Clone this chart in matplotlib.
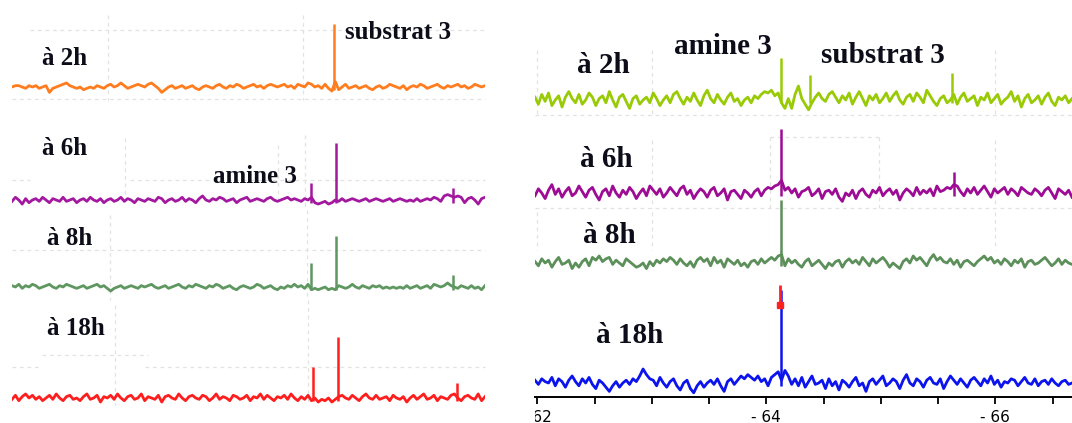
import numpy as np
import matplotlib
matplotlib.use("Agg")
import matplotlib.pyplot as plt
from matplotlib.patches import Rectangle

# ---- data (heights in pixels above each baseline) ----
# left block: spectral window as fraction 0..1 (no axis shown)
noise_L2 = [0,1,1,0,-1,1,0,1,-1,0, 1,-4,-1,0,1,2,3,1,0,-1, 0,-2,-1,0,-1,1,0,-1,1,2,
            0,1,3,1,-1,0,1,2,1,0, 2,3,1,-1,-4,-2,0,1,-1,0, 1,-1,0,1,-1,-2,0,1,0,-1,
            1,2,0,-1,1,0,2,1,-1,0, 1,2,0,1,-1,1,2,1,0,1, 2,0,1,-1,2,1,0,3,2,0,
            1,-1,2,-1,-3,4,-2,0,2,-1, 0,1,-1,0,1,-1,-2,0,1,-1, 0,2,1,0,-1,1,-2,0,1,0,
            2,1,-1,0,1,2,0,-1,1,0, 1,2,0,1,-1,0,2,1,0,1]
noise_L6 = [-1,2,0,-3,1,-2,0,1,-1,2, 0,-2,1,0,-1,2,-1,0,1,-2, 0,1,-1,2,0,-1,1,-2,0,1,
            -1,0,2,-1,1,0,-2,1,0,-1, 1,0,-1,2,1,-2,0,1,-1,0, 2,-1,1,0,-2,1,3,0,-1,1,
            0,2,1,-1,0,1,-2,0,1,2, -1,0,1,0,-1,1,2,0,-1,0, 1,2,0,1,0,-1,1,0,2,-2,
            -3,-2,-1,-3,-2,0,-1,1,-1,0, 1,0,-1,0,1,-1,0,1,0,-1, 0,1,-1,0,1,0,-1,0,-1,1,
            -1,0,1,0,2,1,-1,3,4,3, 2,3,2,-2,1,2,0,-3,1,2]
noise_L8 = [1,0,2,-1,1,0,2,1,-1,0, 1,2,0,-1,1,0,2,1,0,-1, 0,1,-1,0,1,2,0,1,-1,-3,
            -1,0,1,-1,0,1,0,-1,1,0, 1,2,0,-1,0,1,-1,0,1,2, 0,-1,1,0,2,1,0,-1,1,0,
            2,1,-1,0,1,-1,-2,0,1,0, -1,0,2,1,-1,0,1,-1,-2,0, -1,1,0,2,0,1,-1,2,-2,-1,
            -2,-1,0,-2,-1,-2,1,0,-1,0, 2,0,-1,1,0,-1,1,0,1,-1, 0,-1,0,-1,0,-1,1,-1,0,1,
            -1,0,1,-1,2,1,0,1,3,1, 0,-1,1,0,-1,1,-1,0,-2,1]
noise_L18 = [-1,2,-2,1,3,0,2,-1,1,-2, 0,2,-1,3,0,-2,1,2,-1,0, -2,1,3,-1,0,2,-3,1,0,2,
             -1,3,0,-2,1,2,-1,0,3,-2, 1,0,-1,2,-3,1,2,0,-1,3, 0,-2,1,2,0,-1,2,1,-2,0,
             3,-1,1,0,-2,2,1,-1,0,2, -2,1,0,3,-1,2,0,-2,1,0, 2,-1,3,0,-2,1,-1,2,-2,0,
             -3,-1,-2,0,-3,-1,1,2,0,-1, 2,0,-2,1,3,0,-1,2,-1,0, 1,-2,2,0,-1,1,-3,0,2,-1,
             1,3,-1,0,2,-2,1,0,-1,2, 3,0,-2,1,2,0,-1,3,-2,1]

peaks_L2 = [(0.681, 63)]
peaks_L6 = [(0.632, 17), (0.684, 57), (0.932, 12)]
peaks_L8 = [(0.632, 24), (0.684, 51), (0.933, 12)]
peaks_L18 = [(0.637, 31), (0.689, 61), (0.941, 15)]

# right block: chemical shift (ppm)
noise_R2 = [2,-3,4,-1,5,-4,0,3,-5,2, 6,1,-2,4,-3,0,5,2,-4,1, 3,-2,6,0,-5,2,4,-1,-6,1,
            3,-3,0,2,-2,5,1,-4,0,3, -2,4,6,1,-3,2,-1,5,0,-4, 3,7,1,-2,4,0,-3,2,5,-1,
            1,-4,0,2,-2,3,1,4,6,5, 7,3,5,-2,-6,1,-6,4,10,1, -3,-7,-2,2,5,1,-1,4,6,2,
            -2,3,0,5,-3,2,6,1,-4,3, 0,4,-2,1,5,-1,3,6,0,-3, 2,4,-1,5,2,-2,7,3,-1,-4,
            1,3,-2,0,4,-3,2,5,-1,1, 3,-4,2,0,5,-2,1,4,-3,0, 2,6,-1,3,-5,1,4,-2,0,3,
            -3,2,5,-1,-4,2,0,3,-2,1]
noise_R6 = [-2,3,0,-4,2,6,-1,3,-3,1, 4,-2,0,5,1,-3,2,4,-1,-5, 1,3,-2,5,0,-3,2,-1,4,1,
            -4,0,3,-2,5,2,-1,3,-3,0, 4,1,-2,3,5,-1,2,-4,0,3, 1,-3,2,4,-2,0,3,-5,1,2,
            -1,-4,2,0,-3,1,3,-2,2,4, 3,5,6,9,2,4,0,3,-3,1, 2,4,-2,0,3,-4,1,2,-1,3,
            -3,-6,0,-2,2,-4,1,3,-1,-3, 2,0,4,-2,1,3,-1,2,-5,0, 3,1,-2,4,-1,2,0,3,-2,5,
            1,2,4,3,6,5,1,-2,3,0, 4,-1,2,5,1,-3,3,0,2,4, -1,3,1,-2,4,2,0,-1,3,1,
            -2,2,4,0,-4,3,1,-1,2,-3]
noise_R8 = [1,-2,3,0,2,-3,1,4,-1,0, 2,-4,0,-3,1,3,-2,4,2,5, 1,3,4,-1,2,0,-2,3,1,-1,
            -3,-2,0,-4,1,-2,2,0,3,1, 4,2,-1,3,0,-2,1,-3,2,4, 1,3,-2,4,0,2,-3,3,1,-1,
            2,-2,0,-3,1,2,-1,3,0,2, 4,2,5,6,-2,3,0,2,-1,-3, 1,3,-2,0,2,-1,-4,0,-2,1,
            2,-3,1,3,0,2,-1,4,1,-2, 3,0,2,4,1,-3,0,-2,-4,1, 3,0,5,2,4,1,-2,3,6,2,
            4,1,0,3,-1,2,-3,1,2,0, -2,1,3,5,2,4,0,2,-1,3, 1,-2,2,0,3,-3,1,2,-1,0,
            2,4,1,-2,0,3,-1,2,0,-1]
noise_R18 = [2,-1,3,1,0,4,-2,3,1,-3, 2,5,1,-2,3,0,4,-1,-4,2, 0,-3,-6,-2,1,-3,0,2,-1,3,
             1,5,10,6,3,2,-2,4,0,-3, 1,3,-2,-5,0,2,-4,-7,-2,1, -3,0,2,-1,3,-2,-6,1,3,-1,
             2,5,3,6,4,2,5,1,3,-2, 4,6,8,2,9,5,-1,3,-2,4, -3,1,5,-1,0,2,-4,3,-2,1,
             -5,2,0,-3,1,4,-2,0,-6,1, 3,-1,2,5,-2,0,3,1,-4,2, 6,0,-2,3,1,-3,2,4,0,-1,
             3,-4,1,5,2,-1,3,0,-3,2, 4,1,-2,3,0,5,-1,2,-3,1, 0,3,2,-2,1,4,0,-1,3,-2,
             1,2,-1,3,0,-2,1,2,-1,0]

peaks_R2 = [(-64.13, 42), (-64.38, 25), (-65.62, 27)]
peaks_R6 = [(-64.13, 64), (-65.64, 21)]
peaks_R8 = [(-64.13, 63)]
peaks_R18 = [(-64.13, 93)]
red_mark = (-64.12, 78, 98)   # red flag on top of the 18h peak

ppm_ticks = [-62, -62.5, -63, -63.5, -64, -64.5, -65, -65.5, -66, -66.5]
ppm_labels = ["- 62", "", "", "", "- 64", "", "", "", "- 66", ""]

time_labels = ["à 2h", "à 6h", "à 8h", "à 18h"]

# ---- layout (figure pixel units) ----
W, H = 1072, 423
left_base = [87, 200, 287, 398]
right_base = [100, 193, 263, 383]
left_cols = ["#ff7d1e", "#a2189f", "#5f9760", "#ff1e1e"]
right_cols = ["#98cb05", "#9c0c94", "#5c8f5a", "#0c14ee"]
gain_L, gain_R = 1.35, 1.4

fig = plt.figure(figsize=(W / 100, H / 100), dpi=100)
fig.patch.set_facecolor("white")

bg = fig.add_axes([0, 0, 1, 1])
bg.set_xlim(0, W)
bg.set_ylim(H, 0)
bg.axis("off")

# faint dashed guide lines left from the pasted screenshots
gcol = "#e2e2e2"
hl = [(30, 30, 485), (99, 12, 485), (180, 12, 30), (180, 130, 485), (250, 12, 485),
      (355, 42, 148), (367, 12, 40), (367, 145, 485),
      (115, 535, 1072), (137, 770, 880), (208, 535, 1072)]
vl = [(108, 15, 100), (303, 15, 100), (125, 138, 205), (278, 145, 205), (305, 135, 210),
      (110, 215, 300), (307, 210, 300), (115, 305, 405), (308, 300, 405),
      (537, 50, 115), (652, 50, 115), (995, 50, 115), (652, 140, 208), (770, 137, 208),
      (879, 137, 208), (995, 140, 208), (537, 212, 250), (652, 212, 250), (995, 212, 250)]
for y, x0, x1 in hl:
    bg.plot([x0, x1], [y, y], color=gcol, lw=0.9, ls=(0, (3, 3)))
for x, y0, y1 in vl:
    bg.plot([x, x], [y0, y1], color=gcol, lw=0.9, ls=(0, (3, 3)))

tfont = dict(family="Liberation Serif", weight="bold", color="#0d0d1a")
# left labels
bg.text(42, 65, time_labels[0], size=18, **tfont)
bg.text(42, 155, time_labels[1], size=18, **tfont)
bg.text(47, 245, time_labels[2], size=18, **tfont)
bg.text(47, 335, time_labels[3], size=18, **tfont)
bg.text(345, 39, "substrat 3", size=18, **tfont)
bg.text(213, 183, "amine 3", size=18, **tfont)
# right labels
bg.text(577, 73, time_labels[0], size=21, **tfont)
bg.text(580, 167, time_labels[1], size=21, **tfont)
bg.text(583, 243, time_labels[2], size=21, **tfont)
bg.text(596, 343, time_labels[3], size=21, **tfont)
bg.text(674, 54, "amine 3", size=21, **tfont)
bg.text(821, 63, "substrat 3", size=21, **tfont)

# ---- left block ----
axL = fig.add_axes([12 / W, 0, 473 / W, 1])
axL.set_xlim(0, 1)
axL.set_ylim(0, H)
axL.axis("off")
axL.patch.set_alpha(0)

for noise, peaks, base, col in zip([noise_L2, noise_L6, noise_L8, noise_L18],
                                   [peaks_L2, peaks_L6, peaks_L8, peaks_L18],
                                   left_base, left_cols):
    off = H - base
    x = np.linspace(0, 1, len(noise))
    axL.plot(x, off + gain_L * np.array(noise), color=col, lw=2.0)
    for p, h in peaks:
        axL.vlines(p, off - 3, off + h, color=col, lw=1.8)

# ---- right block ----
axR = fig.add_axes([535 / W, 0, 537 / W, 1])
axR.set_xlim(-61.98, -66.67)
axR.set_ylim(0, H)
axR.patch.set_alpha(0)
for s in ["left", "right", "top"]:
    axR.spines[s].set_visible(False)
axR.spines["bottom"].set_position(("data", H - 397))
axR.spines["bottom"].set_linewidth(1.4)
axR.set_yticks([])
axR.set_xticks(ppm_ticks)
axR.set_xticklabels(ppm_labels)
axR.tick_params(axis="x", direction="out", length=5, width=1.3, pad=4, labelsize=11)

for noise, peaks, base, col in zip([noise_R2, noise_R6, noise_R8, noise_R18],
                                   [peaks_R2, peaks_R6, peaks_R8, peaks_R18],
                                   right_base, right_cols):
    off = H - base
    x = np.linspace(-61.98, -66.67, len(noise))
    axR.plot(x, off + gain_R * np.array(noise), color=col, lw=2.0)
    for p, h in peaks:
        axR.vlines(p, off - 3, off + h, color=col, lw=1.8)

off18 = H - right_base[3]
axR.vlines(red_mark[0], off18 + red_mark[1], off18 + red_mark[2], color="#ff2020", lw=2)
axR.plot(red_mark[0], off18 + red_mark[1], "s", color="#ff2020", ms=4)

# the "- 62" label is cut by the edge of the right picture
fig.patches.append(Rectangle((490 / W, 0), 45 / W, 14 / H, transform=fig.transFigure,
                             facecolor="white", edgecolor="none", zorder=5))

fig.savefig("out.png", dpi=100)
